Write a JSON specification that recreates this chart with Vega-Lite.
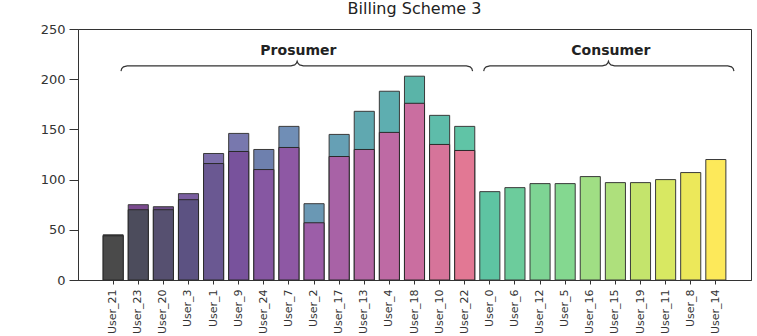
{
  "$schema": "https://vega.github.io/schema/vega-lite/v6.json",
  "width": 673,
  "height": 251,
  "autosize": {"type": "none"},
  "padding": {"left": 78, "top": 29, "right": 6, "bottom": 56},
  "background": "white",
  "title": {"text": "Billing Scheme 3", "fontSize": 16, "font": "DejaVu Sans", "fontWeight": "normal", "color": "#222", "offset": 6, "anchor": "middle"},
  "config": {
    "view": {"stroke": "#333", "strokeWidth": 1},
    "font": "DejaVu Sans",
    "axis": {"grid": false, "domainColor": "#333", "tickColor": "#333", "labelColor": "#333", "labelFont": "DejaVu Sans"},
    "axisX": {"labelAngle": 270, "labelFontSize": 11, "tickSize": 4, "labelPadding": 5, "title": null},
    "axisY": {"labelFontSize": 13, "tickSize": 9, "labelPadding": 4, "title": null}
  },
  "datasets": {
    "bars": [
      {"user": "User_21", "group": "Prosumer", "total": 45, "lower": 44},
      {"user": "User_23", "group": "Prosumer", "total": 75, "lower": 70},
      {"user": "User_20", "group": "Prosumer", "total": 73, "lower": 70},
      {"user": "User_3", "group": "Prosumer", "total": 86, "lower": 80},
      {"user": "User_1", "group": "Prosumer", "total": 126, "lower": 116},
      {"user": "User_9", "group": "Prosumer", "total": 146, "lower": 128},
      {"user": "User_24", "group": "Prosumer", "total": 130, "lower": 110},
      {"user": "User_7", "group": "Prosumer", "total": 153, "lower": 132},
      {"user": "User_2", "group": "Prosumer", "total": 76, "lower": 57},
      {"user": "User_17", "group": "Prosumer", "total": 145, "lower": 123},
      {"user": "User_13", "group": "Prosumer", "total": 168, "lower": 130},
      {"user": "User_4", "group": "Prosumer", "total": 188, "lower": 147},
      {"user": "User_18", "group": "Prosumer", "total": 203, "lower": 176},
      {"user": "User_10", "group": "Prosumer", "total": 164, "lower": 135},
      {"user": "User_22", "group": "Prosumer", "total": 153, "lower": 129},
      {"user": "User_0", "group": "Consumer", "total": 88, "lower": null},
      {"user": "User_6", "group": "Consumer", "total": 92, "lower": null},
      {"user": "User_12", "group": "Consumer", "total": 96, "lower": null},
      {"user": "User_5", "group": "Consumer", "total": 96, "lower": null},
      {"user": "User_16", "group": "Consumer", "total": 103, "lower": null},
      {"user": "User_15", "group": "Consumer", "total": 97, "lower": null},
      {"user": "User_19", "group": "Consumer", "total": 97, "lower": null},
      {"user": "User_11", "group": "Consumer", "total": 100, "lower": null},
      {"user": "User_8", "group": "Consumer", "total": 107, "lower": null},
      {"user": "User_14", "group": "Consumer", "total": 120, "lower": null}
    ],
    "braces": [
      {"group": "Prosumer", "k": 1, "bx": 0.12, "by": 208},
      {"group": "Prosumer", "k": 2, "bx": 0.15, "by": 210.5},
      {"group": "Prosumer", "k": 3, "bx": 0.22, "by": 212.3},
      {"group": "Prosumer", "k": 4, "bx": 0.37, "by": 213.2},
      {"group": "Prosumer", "k": 5, "bx": 7.0, "by": 213.2},
      {"group": "Prosumer", "k": 6, "bx": 7.15, "by": 214.2},
      {"group": "Prosumer", "k": 7, "bx": 7.22, "by": 216},
      {"group": "Prosumer", "k": 8, "bx": 7.25, "by": 218},
      {"group": "Prosumer", "k": 9, "bx": 7.28, "by": 216},
      {"group": "Prosumer", "k": 10, "bx": 7.35, "by": 214.2},
      {"group": "Prosumer", "k": 11, "bx": 7.5, "by": 213.2},
      {"group": "Prosumer", "k": 12, "bx": 14.1, "by": 213.2},
      {"group": "Prosumer", "k": 13, "bx": 14.25, "by": 212.3},
      {"group": "Prosumer", "k": 14, "bx": 14.32, "by": 210.5},
      {"group": "Prosumer", "k": 15, "bx": 14.35, "by": 208},
      {"group": "Consumer", "k": 1, "bx": 14.8, "by": 208},
      {"group": "Consumer", "k": 2, "bx": 14.83, "by": 210.5},
      {"group": "Consumer", "k": 3, "bx": 14.9, "by": 212.3},
      {"group": "Consumer", "k": 4, "bx": 15.05, "by": 213.2},
      {"group": "Consumer", "k": 5, "bx": 19.6, "by": 213.2},
      {"group": "Consumer", "k": 6, "bx": 19.75, "by": 214.2},
      {"group": "Consumer", "k": 7, "bx": 19.82, "by": 216},
      {"group": "Consumer", "k": 8, "bx": 19.85, "by": 218},
      {"group": "Consumer", "k": 9, "bx": 19.88, "by": 216},
      {"group": "Consumer", "k": 10, "bx": 19.95, "by": 214.2},
      {"group": "Consumer", "k": 11, "bx": 20.1, "by": 213.2},
      {"group": "Consumer", "k": 12, "bx": 24.68, "by": 213.2},
      {"group": "Consumer", "k": 13, "bx": 24.83, "by": 212.3},
      {"group": "Consumer", "k": 14, "bx": 24.9, "by": 210.5},
      {"group": "Consumer", "k": 15, "bx": 24.93, "by": 208}
    ],
    "labels": [
      {"group": "Prosumer", "lx": 7.3, "ly": 228},
      {"group": "Consumer", "lx": 19.95, "ly": 228}
    ]
  },
  "layer": [
    {
      "data": {"name": "bars"},
      "layer": [
        {
          "mark": {"type": "bar", "stroke": "#3a3a3a", "strokeWidth": 1},
          "encoding": {
            "x": {"field": "user", "type": "nominal", "scale": {"domain": ["User_21","User_23","User_20","User_3","User_1","User_9","User_24","User_7","User_2","User_17","User_13","User_4","User_18","User_10","User_22","User_0","User_6","User_12","User_5","User_16","User_15","User_19","User_11","User_8","User_14"], "paddingInner": 0.2, "paddingOuter": 1.22}},
            "y": {"field": "total", "type": "quantitative", "scale": {"domain": [0, 250], "nice": false}, "axis": {"values": [0, 50, 100, 150, 200, 250]}, "title": null},
            "color": {"field": "user", "type": "nominal", "legend": null, "scale": {
              "domain": ["User_21","User_23","User_20","User_3","User_1","User_9","User_24","User_7","User_2","User_17","User_13","User_4","User_18","User_10","User_22","User_0","User_6","User_12","User_5","User_16","User_15","User_19","User_11","User_8","User_14"],
              "range": ["#3e3e44","#7a4a8e","#6c4c88","#7a5ea0","#7c6eaa","#7878ae","#6e80ae","#708eb6","#6a98b4","#66a0b5","#60a8b0","#5eaeb0","#5ab4a8","#5ebcaa","#60c4a6","#5ec4a2","#6ccc9c","#7ed494","#84d890","#a0de84","#aee07c","#c4e46c","#d8e862","#ece85a","#fde95a"]}}
          }
        },
        {
          "transform": [{"filter": "datum.lower != null"}],
          "mark": {"type": "bar", "stroke": "#2a2a2a", "strokeWidth": 1},
          "encoding": {
            "x": {"field": "user", "type": "nominal", "scale": {"domain": ["User_21","User_23","User_20","User_3","User_1","User_9","User_24","User_7","User_2","User_17","User_13","User_4","User_18","User_10","User_22","User_0","User_6","User_12","User_5","User_16","User_15","User_19","User_11","User_8","User_14"], "paddingInner": 0.2, "paddingOuter": 1.22}},
            "y": {"field": "lower", "type": "quantitative", "title": null},
            "color": {"field": "user", "type": "nominal", "legend": null, "scale": {
              "domain": ["User_21","User_23","User_20","User_3","User_1","User_9","User_24","User_7","User_2","User_17","User_13","User_4","User_18","User_10","User_22"],
              "range": ["#4a4a4a","#4c4c5c","#565070","#5c5282","#6a5892","#78529c","#8657a2","#8e58a4","#9c5ea8","#a862a6","#b468a6","#be6aa4","#ca6ea0","#d6749a","#e27894"]}}
          }
        }
      ],
      "resolve": {"scale": {"color": "independent"}}
    },
    {
      "data": {"name": "braces"},
      "mark": {"type": "line", "stroke": "#333", "strokeWidth": 1.2},
      "encoding": {
        "x": {"field": "bx", "type": "quantitative", "scale": {"domain": [-1.62, 25.62], "nice": false, "zero": false}, "axis": null},
        "y": {"field": "by", "type": "quantitative", "title": null},
        "detail": {"field": "group"},
        "order": {"field": "k"}
      }
    },
    {
      "data": {"name": "labels"},
      "mark": {"type": "text", "fontSize": 14, "fontWeight": "bold", "font": "DejaVu Sans", "color": "#222", "baseline": "middle", "align": "center"},
      "encoding": {
        "x": {"field": "lx", "type": "quantitative", "scale": {"domain": [-1.62, 25.62], "nice": false, "zero": false}, "axis": null},
        "y": {"field": "ly", "type": "quantitative", "title": null},
        "text": {"field": "group"}
      }
    }
  ],
  "resolve": {"scale": {"x": "independent", "color": "independent"}, "axis": {"x": "independent"}}
}
